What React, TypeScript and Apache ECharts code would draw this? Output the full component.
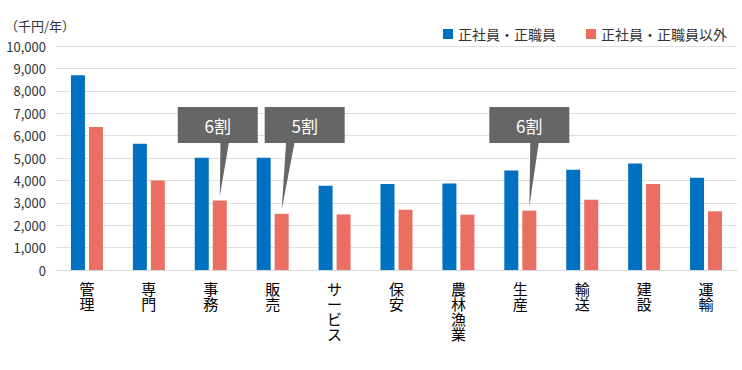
import React, { useEffect, useRef } from "react";
import * as echarts from "echarts";

const categories = ["管理", "専門", "事務", "販売", "サービス", "保安", "農林漁業", "生産", "輸送", "建設", "運輸"];
const regularValues = [8690, 5640, 5010, 5010, 3760, 3840, 3860, 4440, 4480, 4750, 4120];
const nonRegularValues = [6380, 3990, 3100, 2510, 2480, 2690, 2470, 2650, 3140, 3840, 2620];
const seriesNames = ["正社員・正職員", "正社員・正職員以外"];
const annotationCategories = ["事務", "販売", "生産"];
const annotationLabels = ["6割", "5割", "6割"];
const annotationShifts = [-2, 23, 0];

const FONT = "'Noto Sans CJK JP', 'Noto Sans', sans-serif";
const BLUE = "#0070C0";
const RED = "#E96F63";
const BAR_W = 14;
const BAR_GAP = 4;

export default function App() {
  const ref = useRef<HTMLDivElement>(null);
  useEffect(() => {
    document.body.style.margin = "0";
    const chart = echarts.init(ref.current!, null, { renderer: "svg" });
    chart.setOption({
      animation: false,
      backgroundColor: "#ffffff",
      textStyle: { fontFamily: FONT },
      grid: { left: 56, right: 5, top: 46, bottom: 100, containLabel: false },
      legend: {
        left: 438,
        top: 22,
        itemWidth: 10,
        itemHeight: 10,
        itemGap: 30,
        icon: "rect",
        textStyle: { fontSize: 14, color: "#333", fontFamily: FONT },
        data: seriesNames,
      },
      xAxis: {
        type: "category",
        data: categories,
        axisLine: { lineStyle: { color: "#d9d9d9" } },
        axisTick: { show: false },
        axisLabel: {
          interval: 0,
          margin: 11,
          fontSize: 15,
          lineHeight: 15,
          color: "#000",
          fontFamily: FONT,
          formatter: (v: string) => v.split("").join("\n"),
        },
      },
      yAxis: {
        type: "value",
        min: 0,
        max: 10000,
        interval: 1000,
        axisLine: { show: false },
        axisTick: { show: false },
        splitLine: { lineStyle: { color: "#dedede" } },
        axisLabel: {
          fontSize: 13,
          color: "#333",
          margin: 10,
          fontFamily: FONT,
          formatter: (v: number) => v.toLocaleString("en-US"),
        },
      },
      series: [
        {
          name: seriesNames[0],
          type: "bar",
          data: regularValues,
          barWidth: BAR_W,
          barGap: (BAR_GAP / BAR_W) * 100 + "%",
          itemStyle: { color: BLUE },
        },
        {
          name: seriesNames[1],
          type: "bar",
          data: nonRegularValues,
          barWidth: BAR_W,
          itemStyle: { color: RED },
        },
      ],
    });

    const offset = (BAR_W + BAR_GAP) / 2;
    const graphics: any[] = [
      {
        type: "text",
        left: 5,
        top: 19,
        style: { text: "（千円/年）", fontSize: 13, fill: "#333", fontFamily: FONT },
      },
    ];
    annotationCategories.forEach((cat, i) => {
      const idx = categories.indexOf(cat);
      const p = chart.convertToPixel({ xAxisIndex: 0, yAxisIndex: 0 }, [idx, nonRegularValues[idx]]) as number[];
      const tipX = p[0] + offset;
      const tipY = p[1] - 4;
      const boxW = 80;
      const boxH = 36;
      const boxTop = 107;
      const cx = tipX + annotationShifts[i];
      const baseStart = tipX + 1 + annotationShifts[i] * 0.15;
      graphics.push({
        type: "polygon",
        shape: {
          points: [
            [baseStart, boxTop + boxH - 1],
            [baseStart + 8.5, boxTop + boxH - 1],
            [tipX, tipY],
          ],
        },
        style: { fill: "#666666" },
        z: 10,
      });
      graphics.push({
        type: "rect",
        shape: { x: cx - boxW / 2, y: boxTop, width: boxW, height: boxH },
        style: { fill: "#666666" },
        z: 10,
      });
      graphics.push({
        type: "text",
        x: cx,
        y: boxTop + boxH / 2,
        style: {
          text: annotationLabels[i],
          fill: "#ffffff",
          fontSize: 17,
          fontFamily: FONT,
          align: "center",
          verticalAlign: "middle",
        },
        z: 11,
      });
    });
    chart.setOption({ graphic: graphics });

    return () => chart.dispose();
  }, []);
  return <div ref={ref} style={{ position: "fixed", left: 0, top: 0, width: 742, height: 370 }} />;
}
